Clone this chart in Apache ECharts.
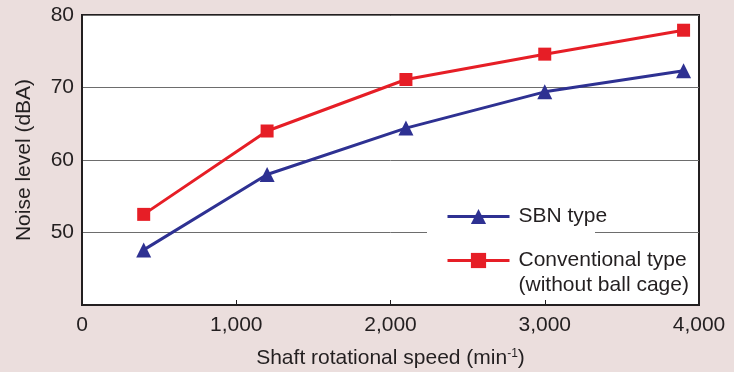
<!DOCTYPE html>
<html>
<head>
<meta charset="utf-8">
<script src="https://cdn.jsdelivr.net/npm/echarts@6/dist/echarts.min.js"></script>
<style>
  html, body { margin: 0; padding: 0; background: #ebdedd; }
  #main { width: 734px; height: 372px; }
</style>
</head>
<body>
<div id="main"></div>
<script>
// shaft speed (min-1) and noise level (dBA)
var speeds = [400, 1200, 2100, 3000, 3900];
var sbn = [47.6, 58, 64.4, 69.4, 72.3];
var conventional = [52.5, 64, 71.1, 74.6, 77.9];
var xTicks = [0, 1000, 2000, 3000, 4000];
var yTicks = [40, 50, 60, 70, 80];

var sbnName = 'SBN type';
var convName = 'Conventional type\n(without ball cage)';

function pairs(xs, ys) {
    var out = [];
    for (var i = 0; i < xs.length; i++) {
        out.push([xs[i], ys[i]]);
    }
    return out;
}

var textColor = '#231f20';
var font = 'Liberation Sans';

var myChart = echarts.init(document.getElementById('main'));
var option = {
    backgroundColor: '#ebdedd',
    textStyle: { fontFamily: font },
    grid: {
        left: 82, right: 35, top: 15, bottom: 67,
        outerBoundsMode: 'none',
        show: true,
        backgroundColor: '#ffffff',
        borderColor: textColor,
        borderWidth: 2
    },
    graphic: [{
        type: 'rect',
        left: 427, top: 229,
        z: 3,
        shape: { width: 168, height: 7 },
        style: { fill: '#ffffff' }
    }],
    legend: [{
        data: [sbnName],
        orient: 'vertical',
        left: 446, top: 204,
        padding: 0,
        itemWidth: 62, itemHeight: 19,
        lineStyle: { width: 3 },
        textStyle: { fontFamily: font, fontSize: 21, color: textColor, lineHeight: 25, padding: [0, 0, 0, 4] }
    }, {
        data: [convName],
        orient: 'vertical',
        left: 446, top: 223,
        padding: 0,
        itemWidth: 62, itemHeight: 19,
        lineStyle: { width: 3 },
        // blank first line keeps the icon level with "Conventional type"
        formatter: function (name) { return ' \n' + name; },
        textStyle: { fontFamily: font, fontSize: 21, color: textColor, lineHeight: 25, padding: [0, 0, 0, 4] }
    }],
    xAxis: {
        type: 'value',
        min: xTicks[0], max: xTicks[xTicks.length - 1], interval: 1000,
        name: 'Shaft rotational speed (min{sup|-1})',
        nameLocation: 'middle',
        nameGap: 43,
        nameTextStyle: {
            fontFamily: font, fontSize: 21, color: textColor,
            rich: { sup: { fontFamily: font, fontSize: 12, color: textColor, verticalAlign: 'top', padding: [0, 0, 9, 0] } }
        },
        axisLine: { show: true, lineStyle: { color: textColor, width: 2 } },
        axisTick: { show: true, inside: true, length: 5, lineStyle: { color: textColor, width: 1 } },
        axisLabel: {
            fontFamily: font, fontSize: 21, color: textColor, margin: 10,
            formatter: function (v) { return v.toLocaleString('en-US'); }
        },
        splitLine: { show: false }
    },
    yAxis: {
        type: 'value',
        min: yTicks[0], max: yTicks[yTicks.length - 1], interval: 10,
        name: 'Noise level (dBA)',
        nameLocation: 'middle',
        nameGap: 47,
        nameTextStyle: { fontFamily: font, fontSize: 21, color: textColor },
        axisLine: { show: true, lineStyle: { color: textColor, width: 2 } },
        axisTick: { show: false },
        axisLabel: {
            fontFamily: font, fontSize: 21, color: textColor, margin: 8,
            formatter: function (v) { return v === yTicks[0] ? '' : v; }
        },
        splitLine: { show: true, lineStyle: { color: '#6d6d6d', width: 1 } }
    },
    series: [{
        name: sbnName,
        type: 'line',
        data: pairs(speeds, sbn),
        symbol: 'triangle',
        symbolSize: 15,
        itemStyle: { color: '#2e3192' },
        lineStyle: { color: '#2e3192', width: 3 },
        z: 5
    }, {
        name: convName,
        type: 'line',
        data: pairs(speeds, conventional),
        symbol: 'rect',
        symbolSize: 13,
        itemStyle: { color: '#e61e26' },
        lineStyle: { color: '#e61e26', width: 3 },
        z: 5
    }],
    animation: false
};
myChart.setOption(option);
</script>
</body>
</html>
